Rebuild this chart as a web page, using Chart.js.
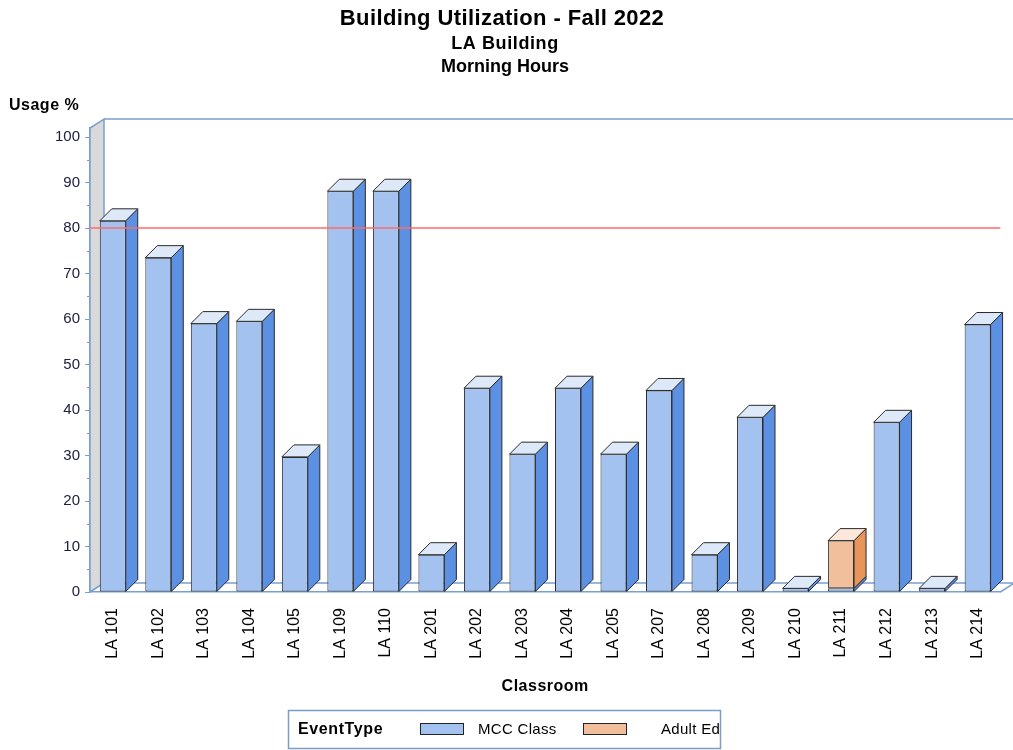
<!DOCTYPE html>
<html>
<head>
<meta charset="utf-8">
<script src="https://cdn.jsdelivr.net/npm/chart.js@4.4.0/dist/chart.umd.min.js"></script>
<style>
  html, body { margin: 0; padding: 0; background: #fff; }
  #wrap { width: 1013px; height: 750px; }
</style>
</head>
<body>
<div id="wrap"><canvas id="myChart" width="1013" height="750"></canvas></div>
<script>
// data
const rooms = ['LA 101', 'LA 102', 'LA 103', 'LA 104', 'LA 105', 'LA 109', 'LA 110', 'LA 201', 'LA 202', 'LA 203',
    'LA 204', 'LA 205', 'LA 207', 'LA 208', 'LA 209', 'LA 210', 'LA 211', 'LA 212', 'LA 213', 'LA 214'];
const mccClass = [81.6, 73.5, 59, 59.5, 29.7, 88.1, 88.1, 8.2, 44.8, 30.3,
    44.8, 30.3, 44.3, 8.2, 38.4, 0.8, 0.8, 37.3, 0.8, 58.8];
const adultEd = [null, null, null, null, null, null, null, null, null, null,
    null, null, null, null, null, null, 10.5, null, null, null];
const targetLine = 80;
const yTicks = [0, 10, 20, 30, 40, 50, 60, 70, 80, 90, 100];

const font = '"Liberation Sans", Arial, sans-serif';
const barDepth = 12;
const wallDx = 14, wallDy = 9;
const faces = [
    { front: '#a3c2ef', side: '#5b90e2', top: '#dde8f8' },
    { front: '#f2bf9d', side: '#e8955c', top: '#fbe8da' }
];

function label(ctx, text, x, y, size, bold, spacing) {
    ctx.font = (bold ? 'bold ' : '') + size + 'px ' + font;
    ctx.letterSpacing = spacing + 'px';
    ctx.fillText(text, x, y);
    ctx.letterSpacing = '0px';
}

const threeD = {
    id: 'threeD',
    beforeDatasetsDraw(chart) {
        const ctx = chart.ctx;
        const a = chart.chartArea;
        ctx.save();
        // left wall
        ctx.fillStyle = '#d9d9d9';
        ctx.beginPath();
        ctx.moveTo(a.left, a.bottom);
        ctx.lineTo(a.left + wallDx, a.bottom - wallDy);
        ctx.lineTo(a.left + wallDx, a.top - wallDy);
        ctx.lineTo(a.left, a.top);
        ctx.closePath();
        ctx.fill();
        ctx.strokeStyle = '#7aa0d0';
        ctx.lineWidth = 1.5;
        ctx.stroke();
        // back wall top + floor back edge
        ctx.beginPath();
        ctx.moveTo(a.left + wallDx, a.top - wallDy);
        ctx.lineTo(chart.width, a.top - wallDy);
        ctx.moveTo(a.left + wallDx, a.bottom - wallDy);
        ctx.lineTo(chart.width, a.bottom - wallDy);
        ctx.moveTo(a.right, a.bottom);
        ctx.lineTo(a.right + wallDx, a.bottom - wallDy);
        ctx.stroke();
        // minor ticks
        const y = chart.scales.y;
        ctx.lineWidth = 1;
        ctx.beginPath();
        for (let v = 5; v < 100; v += 10) {
            const py = Math.round(y.getPixelForValue(v)) + 0.5;
            ctx.moveTo(a.left - 3, py);
            ctx.lineTo(a.left, py);
        }
        ctx.stroke();
        ctx.restore();
    },
    afterDatasetsDraw(chart) {
        const ctx = chart.ctx;
        const a = chart.chartArea;
        const d = barDepth;
        ctx.save();
        ctx.lineWidth = 1;
        ctx.strokeStyle = '#2a2a2a';
        const nsets = chart.data.datasets.length;
        for (let i = 0; i < rooms.length; i++) {
            let topIdx = -1;
            for (let s = 0; s < nsets; s++) {
                const v = chart.data.datasets[s].data[i];
                if (v !== null && v !== undefined) topIdx = s;
            }
            for (let s = 0; s < nsets; s++) {
                const v = chart.data.datasets[s].data[i];
                if (v === null || v === undefined) continue;
                const bar = chart.getDatasetMeta(s).data[i];
                const l = bar.x - bar.width / 2, r = bar.x + bar.width / 2;
                const t = bar.y, b = bar.base;
                // side face
                ctx.fillStyle = faces[s].side;
                ctx.beginPath();
                ctx.moveTo(r, t);
                ctx.lineTo(r + d, t - d);
                ctx.lineTo(r + d, b - d);
                ctx.lineTo(r, b);
                ctx.closePath();
                ctx.fill();
                ctx.stroke();
                if (s === topIdx) {
                    ctx.fillStyle = faces[s].top;
                    ctx.beginPath();
                    ctx.moveTo(l, t);
                    ctx.lineTo(l + d, t - d);
                    ctx.lineTo(r + d, t - d);
                    ctx.lineTo(r, t);
                    ctx.closePath();
                    ctx.fill();
                    ctx.stroke();
                }
            }
        }
        // reference line at 80
        const py = chart.scales.y.getPixelForValue(targetLine);
        ctx.strokeStyle = '#ff6b6b';
        ctx.lineWidth = 1.5;
        ctx.beginPath();
        ctx.moveTo(a.left, py);
        ctx.lineTo(a.right, py);
        ctx.stroke();
        ctx.restore();
    },
    afterDraw(chart) {
        const ctx = chart.ctx;
        const a = chart.chartArea;
        ctx.save();
        ctx.fillStyle = '#000';
        ctx.textAlign = 'center';
        ctx.textBaseline = 'middle';
        label(ctx, 'Building Utilization - Fall 2022', 502, 19, 22, true, 0.4);
        label(ctx, 'LA Building', 505, 44, 18, true, 0.6);
        label(ctx, 'Morning Hours', 505, 67, 18, true, 0);
        label(ctx, 'Classroom', (a.left + a.right) / 2, 687, 16, true, 0.5);
        ctx.textAlign = 'left';
        label(ctx, 'Usage %', 9, 106, 16, true, 0.5);

        // legend
        ctx.strokeStyle = '#7a9cc8';
        ctx.lineWidth = 1.5;
        ctx.strokeRect(288.5, 710.5, 432, 38);
        ctx.fillStyle = '#000';
        label(ctx, 'EventType', 298, 730, 16, true, 0.6);
        const items = [['MCC Class', 420, 478], ['Adult Ed', 583, 661]];
        items.forEach(function (it, k) {
            ctx.fillStyle = faces[k].front;
            ctx.fillRect(it[1], 723, 43, 11);
            ctx.strokeStyle = '#222';
            ctx.lineWidth = 1;
            ctx.strokeRect(it[1] + 0.5, 723.5, 43, 11);
            ctx.fillStyle = '#000';
            label(ctx, it[0], it[2], 730, 15, false, 0.3);
        });
        ctx.restore();
    }
};

const ctx = document.getElementById('myChart');
new Chart(ctx, {
    type: 'bar',
    data: {
        labels: rooms,
        datasets: [
            {
                label: 'MCC Class',
                data: mccClass,
                backgroundColor: faces[0].front,
                borderColor: '#2a2a2a',
                borderWidth: 1,
                borderSkipped: false
            },
            {
                label: 'Adult Ed',
                data: adultEd,
                backgroundColor: faces[1].front,
                borderColor: '#2a2a2a',
                borderWidth: 1,
                borderSkipped: false
            }
        ]
    },
    options: {
        responsive: false,
        animation: false,
        devicePixelRatio: 1,
        layout: { padding: { top: 128, right: 7, left: 0, bottom: 0 } },
        datasets: { bar: { categoryPercentage: 1, barPercentage: 0.57 } },
        plugins: {
            legend: { display: false },
            title: { display: false },
            tooltip: { enabled: false }
        },
        scales: {
            x: {
                stacked: true,
                grid: { display: false, drawTicks: false },
                border: { display: true, color: '#7aa0d0', width: 1.5 },
                ticks: {
                    minRotation: 90,
                    maxRotation: 90,
                    padding: 16,
                    color: '#000',
                    font: { family: font, size: 16 }
                },
                afterFit: function (scale) { scale.height = 158; }
            },
            y: {
                stacked: true,
                min: 0,
                max: 102,
                grid: { drawOnChartArea: false, tickLength: 5, color: '#7aa0d0' },
                border: { display: true, color: '#7aa0d0', width: 1.5 },
                ticks: {
                    padding: 5,
                    color: '#202040',
                    font: { family: font, size: 15 }
                },
                afterBuildTicks: function (scale) {
                    scale.ticks = yTicks.map(function (v) { return { value: v }; });
                },
                afterFit: function (scale) { scale.width = 90; }
            }
        }
    },
    plugins: [threeD]
});
</script>
</body>
</html>
